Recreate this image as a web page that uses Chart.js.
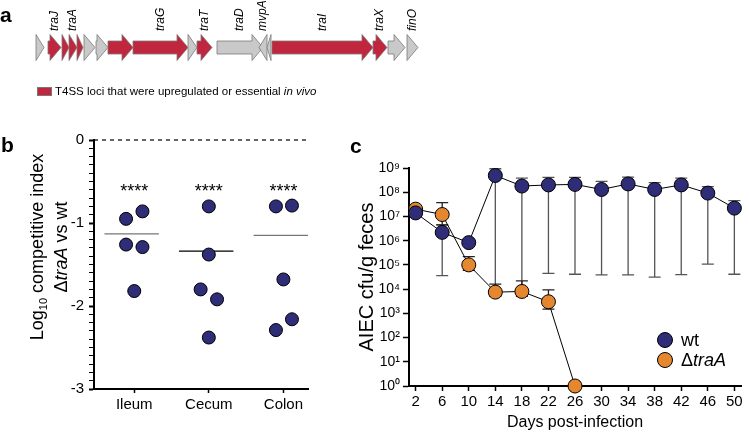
<!DOCTYPE html>
<html>
<head>
<meta charset="utf-8">
<script src="https://cdn.jsdelivr.net/npm/chart.js@4.4.0/dist/chart.umd.min.js"></script>
<style>
body{margin:0;background:#fff;font-family:"Liberation Sans",Arial,sans-serif;}
#wrap{position:relative;width:749px;height:436px;overflow:hidden;background:#fff;}
canvas{position:absolute;}
.lbl{position:absolute;font-weight:bold;font-size:21px;line-height:21px;}
#lega{position:absolute;left:37px;top:86px;font-size:11.5px;line-height:11.5px;white-space:nowrap;}
#lega .sq{position:absolute;left:0;top:1px;width:13px;height:7px;background:#c0273f;border:0.5px solid #777;}
#lega .tx{position:absolute;left:18px;top:0;}
</style>
</head>
<body>
<div id="wrap">
<canvas id="ca" width="749" height="110" style="left:0;top:0"></canvas>
<canvas id="cb" width="350" height="326" style="left:0;top:110px"></canvas>
<canvas id="cc" width="399" height="326" style="left:350px;top:110px"></canvas>
<div class="lbl" style="left:0;top:4px">a</div>
<div class="lbl" style="left:1px;top:134px">b</div>
<div class="lbl" style="left:350px;top:135px">c</div>
<div id="lega"><div class="sq"></div><div class="tx">T4SS loci that were upregulated or essential <i>in vivo</i></div></div>
</div>
<script>
// ---- panel a: gene map (kb along the locus) ----
const geneStart  = [0.0, 1.2, 2.6, 3.3, 4.1, 4.8, 6.0, 7.2, 9.7, 15.2, 16.1, 18.1, 22.3, 23.1, 23.6, 33.7, 35.2, 37.1];
const geneEnd    = [0.8, 2.5, 3.3, 4.1, 4.7, 5.9, 7.2, 9.7, 15.2, 16.1, 17.6, 22.7, 23.1, 23.5, 33.7, 35.1, 36.9, 38.2];
const geneStrand = [1, 1, 1, 1, 1, 1, 1, 1, 1, 1, 1, 1, -1, -1, 1, 1, 1, 1];
const geneT4SS   = [0, 1, 1, 1, 1, 0, 0, 1, 1, 0, 1, 0, 0, 0, 1, 1, 0, 0];
const geneName   = ['', 'traJ', '', 'traA', '', '', '', '', 'traG', '', 'traT', 'traD', 'mvpA', '', 'traI', 'traX', '', 'finO'];

// ---- panel b: competitive index ----
const organs = ['Ileum', 'Cecum', 'Colon'];
const ileumCI = [-0.95, -0.86, -1.26, -1.29, -1.82];
const cecumCI = [-0.80, -1.38, -1.80, -1.92, -2.38];
const colonCI = [-0.80, -0.79, -1.68, -2.16, -2.29];
const ileumJitter = [-0.11, 0.11, -0.11, 0.11, 0];
const cecumJitter = [0, 0, -0.11, 0.11, 0];
const colonJitter = [-0.1, 0.115, 0, 0.115, -0.1];
const groupMeans = [-1.13, -1.34, -1.15];
const groupStars = ['****', '****', '****'];

// ---- panel c: fecal shedding ----
const days = [2, 6, 10, 14, 18, 22, 26, 30, 34, 38, 42, 46, 50];
const wtCfu  = [1.4e7, 2.2e6, 8.3e5, 4.9e8, 1.8e8, 2.0e8, 2.1e8, 1.3e8, 2.2e8, 1.3e8, 2.0e8, 9.2e7, 2.2e7];
const wtLow  = [1.2e7, 3.6e4, 7.0e5, 7.5e3, 8.0e3, 4.5e4, 4.1e4, 3.9e4, 3.9e4, 3.1e4, 4.0e4, 1.07e5, 4.1e4];
const wtHigh = [1.7e7, 4.5e6, 1.0e6, 9.3e8, 3.8e8, 4.1e8, 4.1e8, 2.8e8, 4.2e8, 2.5e8, 3.8e8, 1.7e8, 4.5e7];
const traACfu  = [2.0e7, 1.2e7, 1.0e5, 7.5e3, 8.0e3, 3.0e3, 1];
const traALow  = [1.6e7, 4.5e6, 6.0e4, 5.0e3, 5.0e3, 1.5e3, 1];
const traAHigh = [2.6e7, 3.7e7, 2.2e5, 1.6e4, 2.2e4, 9.3e3, 1];
const decades = [0, 1, 2, 3, 4, 5, 6, 7, 8, 9];

const FONT = '"Liberation Sans", Arial, sans-serif';
const NAVY = '#2f2c78';
const ORANGE = '#e5872e';
const RED = '#c0273f';
const GREY = '#c9c9c9';
Chart.defaults.font.family = FONT;
Chart.defaults.color = '#000';

// gene arrows
const genePlugin = {
  id: 'genes',
  afterDraw(chart) {
    const ctx = chart.ctx, x = chart.scales.x;
    const yc = 47.5, hb = 6.5, hh = 13, head = 11;
    ctx.save();
    ctx.lineWidth = 0.8;
    ctx.strokeStyle = '#7a7a7a';
    geneStart.forEach((s, i) => {
      const a = x.getPixelForValue(s), b = x.getPixelForValue(geneEnd[i]);
      const dir = geneStrand[i];
      const tip = dir > 0 ? b : a, base = dir > 0 ? a : b;
      const len = Math.abs(b - a);
      ctx.beginPath();
      if (len > head) {
        const hx = tip - dir * head;
        ctx.moveTo(base, yc - hb); ctx.lineTo(hx, yc - hb); ctx.lineTo(hx, yc - hh);
        ctx.lineTo(tip, yc); ctx.lineTo(hx, yc + hh); ctx.lineTo(hx, yc + hb); ctx.lineTo(base, yc + hb);
      } else {
        ctx.moveTo(base, yc - hh); ctx.lineTo(tip, yc); ctx.lineTo(base, yc + hh);
      }
      ctx.closePath();
      ctx.fillStyle = geneT4SS[i] ? RED : GREY;
      ctx.fill();
      ctx.stroke();
    });
    ctx.fillStyle = '#000';
    ctx.font = 'italic 12px ' + FONT;
    ctx.textAlign = 'left';
    ctx.textBaseline = 'middle';
    geneName.forEach((n, i) => {
      if (!n) return;
      const c = x.getPixelForValue((geneStart[i] + geneEnd[i]) / 2);
      ctx.save();
      ctx.translate(c, 31);
      ctx.rotate(-Math.PI / 2);
      ctx.fillText(n, 0, 0);
      ctx.restore();
    });
    ctx.restore();
  }
};

new Chart(document.getElementById('ca'), {
  type: 'scatter',
  data: { datasets: [{ data: [] }] },
  options: {
    responsive: false, animation: false, devicePixelRatio: 1,
    layout: { padding: 0 },
    plugins: { legend: { display: false }, tooltip: { enabled: false } },
    scales: {
      x: { type: 'linear', min: -3.6, max: 71.3, display: false },
      y: { min: 0, max: 1, display: false }
    }
  },
  plugins: [genePlugin]
});

// panel b
const dots = [];
[[ileumCI, ileumJitter], [cecumCI, cecumJitter], [colonCI, colonJitter]].forEach(([vals, jit], g) => {
  vals.forEach((v, i) => dots.push({ x: g + 1 + jit[i], y: v }));
});
const meanColors = ['#777', '#000', '#777'];
const meanSets = groupMeans.map((m, g) => ({
  data: [{ x: g + 1 - 0.4, y: m }, { x: g + 1 + 0.33, y: m }],
  showLine: true, borderColor: meanColors[g], borderWidth: 1.3, pointRadius: 0
}));

const bPlugin = {
  id: 'bextra',
  afterDraw(chart) {
    const ctx = chart.ctx, x = chart.scales.x, y = chart.scales.y;
    ctx.save();
    ctx.fillStyle = '#000';
    // stars
    ctx.font = '18px ' + FONT;
    ctx.textAlign = 'center';
    ctx.textBaseline = 'alphabetic';
    groupStars.forEach((s, g) => {
      ctx.fillText(s, x.getPixelForValue(g + 1), y.getPixelForValue(-0.56) + 10.4);
    });
    // y title with subscript and italic
    const lines = [
      [['Log', 'normal 18px', 0], ['10', 'normal 11px', 4], [' competitive index', 'normal 18px', 0]],
      [['\u0394', 'normal 18px', 0], ['traA', 'italic 18px', 0], [' vs wt', 'normal 18px', 0]]
    ];
    const bx = [43, 67];
    lines.forEach((segs, li) => {
      let total = 0;
      segs.forEach(s => { ctx.font = s[1] + ' ' + FONT; total += ctx.measureText(s[0]).width; });
      ctx.save();
      ctx.translate(bx[li], 137);
      ctx.rotate(-Math.PI / 2);
      ctx.textAlign = 'left';
      let cx = -total / 2;
      segs.forEach(s => {
        ctx.font = s[1] + ' ' + FONT;
        ctx.fillText(s[0], cx, s[2]);
        cx += ctx.measureText(s[0]).width;
      });
      ctx.restore();
    });
    ctx.restore();
  }
};

new Chart(document.getElementById('cb'), {
  type: 'scatter',
  data: {
    datasets: [
      { data: dots, pointRadius: 6.5, pointBackgroundColor: NAVY, pointBorderColor: '#000', pointBorderWidth: 1 },
      ...meanSets,
      { data: [{ x: 0.46, y: 0 }, { x: 3.33, y: 0 }], showLine: true, borderColor: '#000', borderWidth: 1.2,
        borderDash: [4, 4], pointRadius: 0, clip: false }
    ]
  },
  options: {
    responsive: false, animation: false, devicePixelRatio: 1,
    layout: { padding: { left: 0, right: 42, top: 30, bottom: 0 } },
    plugins: { legend: { display: false }, tooltip: { enabled: false } },
    scales: {
      x: {
        type: 'linear', min: 0.46, max: 3.33,
        afterBuildTicks: s => { s.ticks = organs.map((o, i) => ({ value: i + 1 })); },
        afterFit: s => { s.height = 47; },
        ticks: { callback: v => organs[v - 1] || '', font: { size: 15 }, color: '#000', padding: 3, maxRotation: 0, autoSkip: false },
        grid: { display: true, drawOnChartArea: false, drawTicks: true, tickLength: 4, color: '#000', tickWidth: 1.5 },
        border: { display: true, color: '#000', width: 2 }
      },
      y: {
        min: -3, max: 0,
        afterFit: s => { s.width = 94; },
        ticks: {
          stepSize: 0.1, autoSkip: false, font: { size: 15 }, color: '#000', padding: 5,
          callback: v => Math.abs(v - Math.round(v)) < 1e-6 ? String(Math.round(v) === 0 ? 0 : Math.round(v)) : ''
        },
        grid: {
          display: true, drawOnChartArea: false, drawTicks: true, tickLength: 5, color: '#000',
          tickWidth: c => (c.tick && Math.abs(c.tick.value - Math.round(c.tick.value)) < 1e-6) ? 2 : 1
        },
        border: { display: true, color: '#000', width: 2 }
      }
    }
  },
  plugins: [bPlugin]
});

// panel c
const SUP = ['\u2070', '\u00b9', '\u00b2', '\u00b3', '\u2074', '\u2075', '\u2076', '\u2077', '\u2078', '\u2079'];

const errPlugin = {
  id: 'errbars',
  beforeDatasetsDraw(chart) {
    const ctx = chart.ctx, x = chart.scales.x, y = chart.scales.y;
    const sets = [[wtLow, wtHigh, '#555'], [traALow, traAHigh, '#222']];
    ctx.save();
    ctx.lineWidth = 1.3;
    sets.forEach(([lo, hi, col]) => {
      ctx.strokeStyle = col;
      lo.forEach((l, i) => {
        const px = x.getPixelForValue(days[i]);
        const p1 = y.getPixelForValue(l), p2 = y.getPixelForValue(hi[i]);
        ctx.beginPath();
        ctx.moveTo(px, p1); ctx.lineTo(px, p2);
        ctx.moveTo(px - 6, p1); ctx.lineTo(px + 6, p1);
        ctx.moveTo(px - 6, p2); ctx.lineTo(px + 6, p2);
        ctx.stroke();
      });
    });
    ctx.restore();
  },
  afterDraw(chart) {
    const ctx = chart.ctx, a = chart.chartArea;
    const items = [[NAVY, [['wt', 'normal']]], [ORANGE, [['\u0394', 'normal'], ['traA', 'italic']]]];
    ctx.save();
    items.forEach(([col, segs], i) => {
      const cx = a.right - 76, cy = a.bottom - 46 + i * 20;
      ctx.beginPath();
      ctx.arc(cx, cy, 7.5, 0, Math.PI * 2);
      ctx.fillStyle = col; ctx.fill();
      ctx.lineWidth = 1; ctx.strokeStyle = '#000'; ctx.stroke();
      ctx.fillStyle = '#000';
      ctx.textBaseline = 'middle';
      ctx.textAlign = 'left';
      let tx = cx + 16;
      segs.forEach(([t, st]) => {
        ctx.font = st + ' 18px ' + FONT;
        ctx.fillText(t, tx, cy + 1);
        tx += ctx.measureText(t).width;
      });
    });
    ctx.restore();
  }
};

new Chart(document.getElementById('cc'), {
  type: 'scatter',
  data: {
    datasets: [
      { label: 'wt', data: days.map((d, i) => ({ x: d, y: wtCfu[i] })), showLine: true, borderColor: '#000', borderWidth: 1,
        pointRadius: 7, pointBackgroundColor: NAVY, pointBorderColor: '#000', pointBorderWidth: 1, clip: false },
      { label: '\u0394traA', data: traACfu.map((v, i) => ({ x: days[i], y: v })), showLine: true, borderColor: '#000', borderWidth: 1,
        pointRadius: 7, pointBackgroundColor: ORANGE, pointBorderColor: '#000', pointBorderWidth: 1, clip: false }
    ]
  },
  options: {
    responsive: false, animation: false, devicePixelRatio: 1,
    layout: { padding: { left: 1, right: 1, top: 58, bottom: 0 } },
    plugins: { legend: { display: false }, tooltip: { enabled: false } },
    scales: {
      x: {
        type: 'linear', min: 1, max: 51,
        afterBuildTicks: s => { s.ticks = days.map(d => ({ value: d })); },
        afterFit: s => { s.height = 50; },
        ticks: { font: { size: 15 }, color: '#000', padding: 2, maxRotation: 0, autoSkip: false },
        grid: { display: true, drawOnChartArea: false, drawTicks: true, tickLength: 5, color: '#000', tickWidth: 1.5 },
        border: { display: true, color: '#000', width: 2 },
        title: { display: true, text: 'Days post-infection', font: { size: 16 }, color: '#000', padding: { top: 4, bottom: 4 } }
      },
      y: {
        type: 'logarithmic', min: 1, max: 1e9,
        afterBuildTicks: s => { s.ticks = decades.map(e => ({ value: Math.pow(10, e) })); },
        afterFit: s => { s.width = 58; },
        ticks: { callback: v => '10' + SUP[Math.round(Math.log10(v))], font: { size: 14 }, color: '#000', padding: 3, autoSkip: false },
        grid: { display: true, drawOnChartArea: false, drawTicks: true, tickLength: 6, color: '#000', tickWidth: 1.5 },
        border: { display: true, color: '#000', width: 2 },
        title: { display: true, text: 'AIEC cfu/g feces', font: { size: 20 }, color: '#000', padding: { top: 4, bottom: 4 } }
      }
    }
  },
  plugins: [errPlugin]
});
</script>
</body>
</html>
